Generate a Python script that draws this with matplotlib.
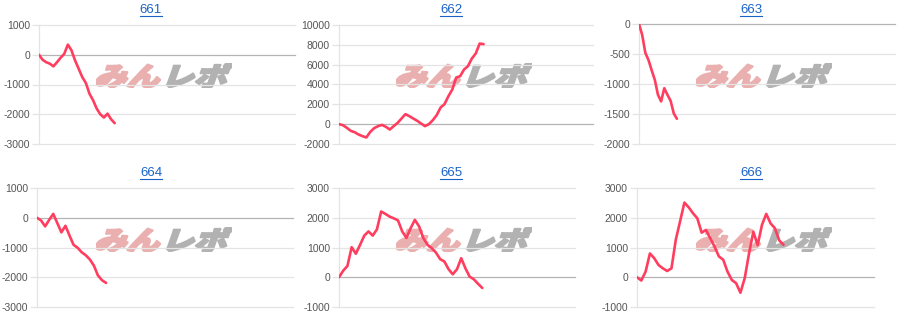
"""
Gráfica de diferencias por máquina (661-666) con marca de agua
"""

import matplotlib
matplotlib.use("Agg")
import matplotlib.pyplot as plt
from matplotlib.lines import Line2D
from matplotlib.patches import PathPatch
from matplotlib.textpath import TextPath
from matplotlib.font_manager import FontProperties
from matplotlib.transforms import Affine2D

# ── Datos ────────────────────────────────────────────────────────────────────

titles = ["661", "662", "663", "664", "665", "666"]

s661 = [0, -170, -250, -300, -390, -250, -100, 30, 340, 150, -190, -470, -750,
        -950, -1310, -1530, -1810, -2000, -2110, -1980, -2170, -2300]
s662 = [0, -100, -370, -670, -810, -1040, -1210, -1340, -780, -400, -200, -70,
        -270, -540, -200, 130, 570, 1010, 810, 570, 340, 70, -200, 0, 400, 910,
        1680, 2020, 2820, 3500, 4700, 4840, 5510, 5850, 6620, 7130, 8130, 8070]
s663 = [0, -180, -480, -600, -770, -930, -1180, -1290, -1070, -1180, -1280,
        -1490, -1580]
s664 = [0, -90, -290, -70, 130, -180, -490, -270, -600, -910, -1010, -1160,
        -1260, -1400, -1610, -1940, -2100, -2190]
s665 = [0, 220, 380, 1010, 790, 1090, 1400, 1540, 1400, 1610, 2210, 2130, 2040,
        1980, 1910, 1540, 1320, 1650, 1930, 1710, 1320, 1090, 980, 830, 610, 530,
        270, 100, 270, 640, 300, 20, -70, -220, -360]
s666 = [0, -110, 190, 800, 640, 410, 300, 210, 300, 1260, 1880, 2510, 2350, 2150,
        1980, 1500, 1590, 1310, 1030, 700, 590, 190, -90, -200, -520, -30, 800,
        1530, 1080, 1760, 2130, 1810, 1650, 1240, 1090]
series = [s661, s662, s663, s664, s665, s666]

# rango del eje x (en puntos) y ticks del eje y
x_span = [71, 65, 81, 63, 56, 55]
y_ticks = [
    [-3000, -2000, -1000, 0, 1000],
    [-2000, 0, 2000, 4000, 6000, 8000, 10000],
    [-2000, -1500, -1000, -500, 0],
    [-3000, -2000, -1000, 0, 1000],
    [-1000, 0, 1000, 2000, 3000],
    [-1000, 0, 1000, 2000, 3000],
]

# ── Estilo ───────────────────────────────────────────────────────────────────

plt.rcParams["font.family"] = ["Liberation Sans", "Noto Sans CJK JP", "DejaVu Sans"]
plt.rcParams["axes.unicode_minus"] = False

W, H = 900, 328
LINE_COLOR = "#ff3d5f"
GRID_COLOR = "#e4e4e4"
ZERO_COLOR = "#b4b4b4"
TITLE_COLOR = "#1a63c6"

# cajas de cada gráfico en píxeles: (izq, arriba, der, abajo)
boxes = [
    (39, 25, 295, 144),
    (339, 25, 593, 144),
    (639, 24, 895, 144),
    (37, 188, 293, 307),
    (339, 188, 575, 307),
    (637, 188, 874, 307),
]


def px_rect(l, t, r, b):
    return [l / W, 1 - b / H, (r - l) / W, (b - t) / H]


def add_watermark(fig, col, row):
    """Logo 'みんレポ' semitransparente en el centro del panel."""
    l = col * 300 + 96
    r = col * 300 + 232
    t = 63 if row == 0 else 227
    b = t + 25
    wax = fig.add_axes(px_rect(l, t, r, b))
    wax.axis("off")
    fp = FontProperties(family="Noto Sans CJK JP", weight="heavy")
    skew = Affine2D().skew_deg(16, 0)
    p1 = TextPath((0, 0), "みん", size=10, prop=fp)
    x2 = p1.get_extents().x1 + 0.8
    p2 = TextPath((x2, 0), "レポ", size=10, prop=fp)
    p1 = skew.transform_path(p1)
    p2 = skew.transform_path(p2)
    wax.add_patch(PathPatch(p1, facecolor="#eab0b0", edgecolor="#eab0b0",
                            linewidth=1.6, joinstyle="round"))
    wax.add_patch(PathPatch(p2, facecolor="#b2b2b2", edgecolor="#b2b2b2",
                            linewidth=1.6, joinstyle="round"))
    e1, e2 = p1.get_extents(), p2.get_extents()
    wax.set_xlim(min(e1.x0, e2.x0), max(e1.x1, e2.x1))
    wax.set_ylim(min(e1.y0, e2.y0), max(e1.y1, e2.y1))


fig = plt.figure(figsize=(W / 100, H / 100), dpi=100)
fig.patch.set_facecolor("white")

titles_txt = []
for i, (name, ys) in enumerate(zip(titles, series)):
    col, row = i % 3, i // 3
    add_watermark(fig, col, row)

    ax = fig.add_axes(px_rect(*boxes[i]))
    ax.set_facecolor("none")
    ax.plot(range(len(ys)), ys, color=LINE_COLOR, linewidth=1.9,
            solid_joinstyle="round", solid_capstyle="round", zorder=3)

    ticks = y_ticks[i]
    ax.set_xlim(0, x_span[i])
    ax.set_ylim(ticks[0], ticks[-1])
    ax.set_yticks(ticks)
    ax.set_yticklabels([str(v) for v in ticks])
    ax.set_xticks([])
    for v in ticks:
        c = ZERO_COLOR if v == 0 else GRID_COLOR
        ax.axhline(v, color=c, linewidth=0.9, zorder=1, clip_on=False)

    for s in ["top", "right", "bottom"]:
        ax.spines[s].set_visible(False)
    ax.spines["left"].set_color(GRID_COLOR)
    ax.spines["left"].set_linewidth(0.9)
    ax.tick_params(axis="y", length=5, width=0.9, color=GRID_COLOR,
                   labelsize=7.5, labelcolor="#555555", pad=1.5)

    # título subrayado
    cx = col * 300 + 151
    cy = 10 if row == 0 else 173
    t = fig.text(cx / W, 1 - cy / H, name, ha="center", va="center",
                 fontsize=9.5, color=TITLE_COLOR)
    titles_txt.append((t, cy))

# subrayado de los títulos
fig.canvas.draw()
renderer = fig.canvas.get_renderer()
for t, cy in titles_txt:
    bb = t.get_window_extent(renderer)
    yl = 1 - (cy + 5.5) / H
    fig.add_artist(Line2D([bb.x0 / W, bb.x1 / W], [yl, yl],
                          color=TITLE_COLOR, linewidth=0.8))

fig.savefig("out.png", dpi=100, facecolor="white")
